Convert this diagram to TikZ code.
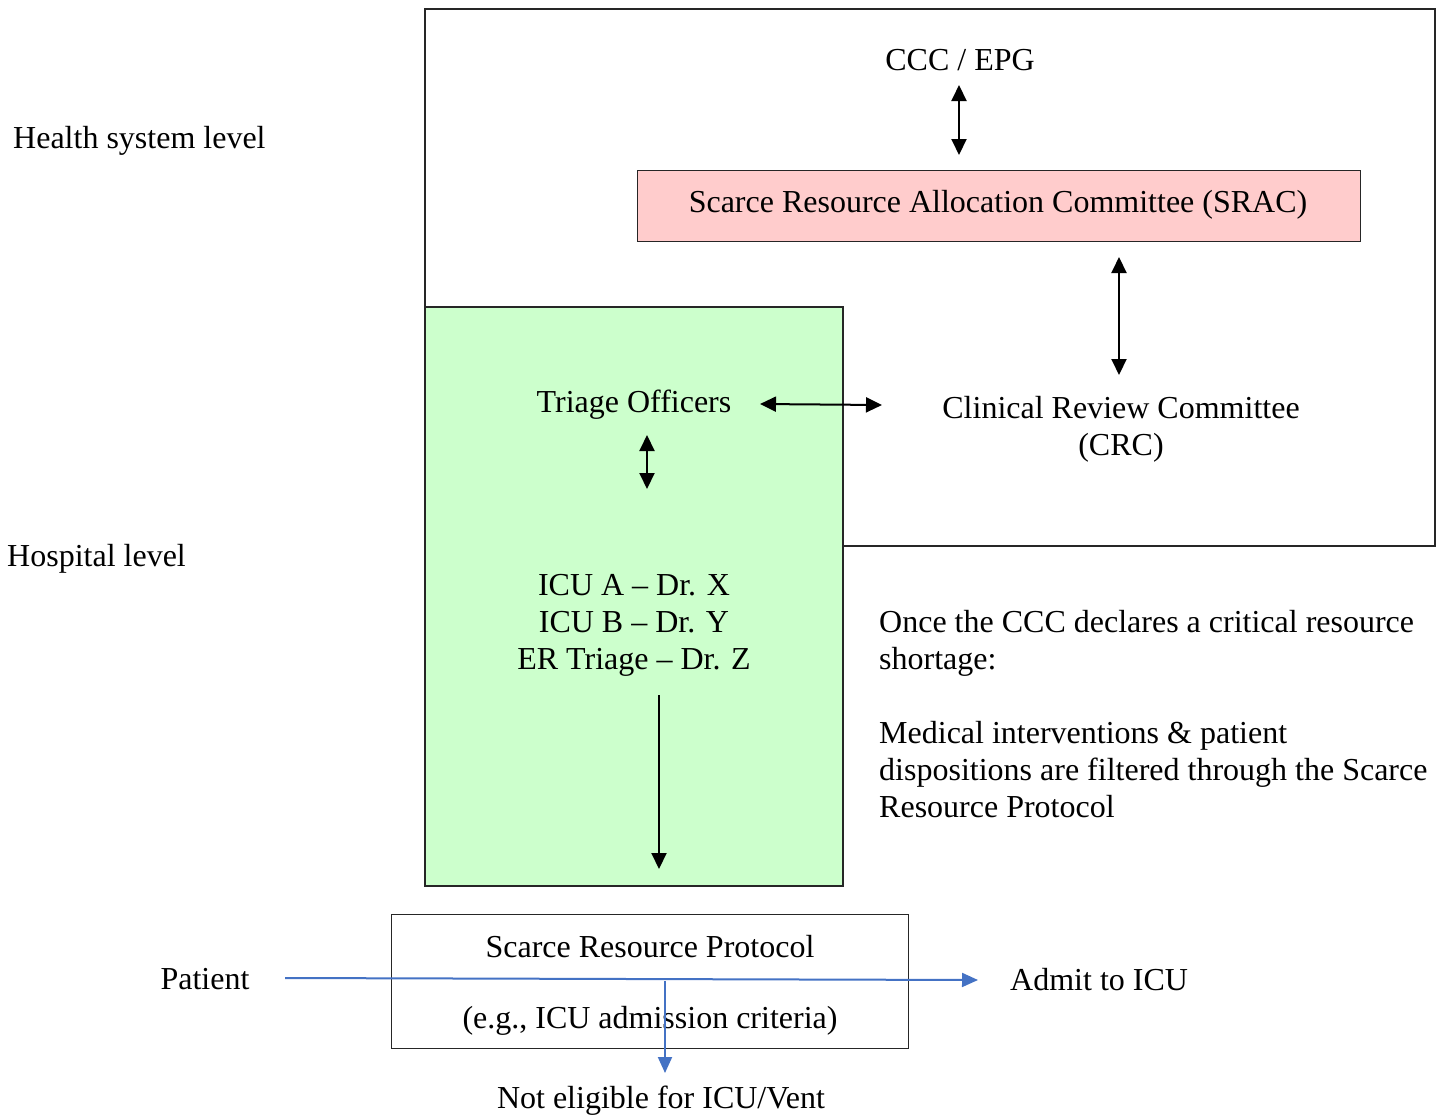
\documentclass[tikz,border=0pt]{standalone}
\usepackage{fontspec}
\setmainfont{Liberation Serif}
\usetikzlibrary{arrows.meta}
\definecolor{srpink}{HTML}{FFCCCC}
\definecolor{srgreen}{HTML}{CCFFCC}
\definecolor{srblue}{HTML}{4472C4}
\tikzset{
  txt/.style={inner sep=0pt, yshift=-3.5pt, font=\fontsize{32}{37}\selectfont},
  frame/.style={draw=black!85, line width=1.2pt},
  dbl/.style={line width=2pt, {Triangle[length=16pt,width=15pt]}-{Triangle[length=16pt,width=15pt]}},
  sgl/.style={line width=2pt, -{Triangle[length=16pt,width=15pt]}},
  blu/.style={draw=srblue, line width=2pt, -{Triangle[length=16pt,width=14pt]}}
}
\begin{document}
\begin{tikzpicture}[x=1pt,y=-1pt]
\useasboundingbox (0,0) rectangle (1448,1117);
% outer health-system box
\draw[frame] (425,9) rectangle (1435,546);
% hospital-level green box
\draw[frame, fill=srgreen] (425,307) rectangle (843,886);
% SRAC box
\node[frame, fill=srpink, minimum width=723pt, minimum height=71pt, inner sep=0pt, anchor=north west] (srac) at (637,170) {};
\node[txt] (sractxt) at (998,201) {Scarce Resource Allocation Committee (SRAC)};
% protocol box
\node[frame, minimum width=517pt, minimum height=134pt, inner sep=0pt, anchor=north west] (proto) at (391,914) {};
\node[txt] (proto1) at (650,943) {Scarce Resource Protocol};
\node[txt] (proto2) at (650,1017) {(e.g., ICU admission criteria)};

% texts
\node[txt] (ccc) at (960,57) {CCC / EPG};
\node[txt, anchor=west] (hsl) at (13,137) {Health system level};
\node[txt, anchor=west] (hl) at (7,555) {Hospital level};
\node[txt] (triage) at (634,401) {Triage Officers};
\node[txt, align=center] (crc) at (1121,426) {Clinical Review Committee\\(CRC)};
\node[txt, align=center] (icu) at (634,622) {ICU A -- Dr. X\\ICU B -- Dr. Y\\ER Triage -- Dr. Z};
\node[txt, align=left, anchor=north west] (note) at (879,607)
  {Once the CCC declares a critical resource\\shortage:\\[37pt]Medical interventions \& patient\\dispositions are filtered through the Scarce\\Resource Protocol};
\node[txt] (patient) at (205,976) {Patient};
\node[txt, anchor=west] (admit) at (1010,976) {Admit to ICU};
\node[txt] (noteligible) at (661,1097) {Not eligible for ICU/Vent};

% connector end points
\coordinate (a1) at (959,85);
\coordinate (a2) at (959,155);
\coordinate (b1) at (1119,257);
\coordinate (b2) at (1119,375);
\coordinate (c1) at (760,404);
\coordinate (c2) at (882,405);
\coordinate (d1) at (647,435);
\coordinate (d2) at (647,489);
\coordinate (e1) at (659,695);
\coordinate (e2) at (659,869);
\coordinate (p1) at (285,978);
\coordinate (p2) at (978,980);
\coordinate (q1) at (665,981);
\coordinate (q2) at (665,1073);

% black connectors
\draw[dbl] (a1) -- (a2);
\draw[dbl] (b1) -- (b2);
\draw[dbl] (c1) -- (c2);
\draw[dbl] (d1) -- (d2);
\draw[sgl] (e1) -- (e2);
% blue patient flow
\draw[blu] (p1) -- (p2);
\draw[blu] (q1) -- (q2);
\end{tikzpicture}
\end{document}
